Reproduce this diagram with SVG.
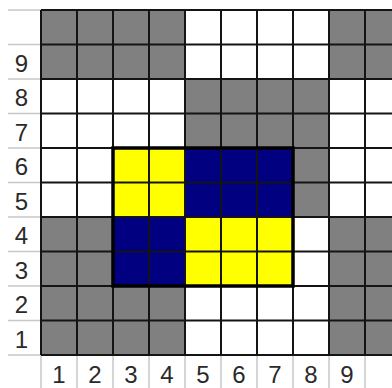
<svg xmlns="http://www.w3.org/2000/svg" width="392" height="388" viewBox="0 0 392 388">
<style>
.g{fill:#808080}.w{fill:#ffffff}.y{fill:#ffff00}.b{fill:#000080}
.grid{stroke:#141414;stroke-width:2;fill:none}
.light{stroke:#c8c8c8;stroke-width:1.5;fill:none}
.lbl{font-family:"Liberation Sans",Arial,sans-serif;font-size:24px;fill:#2a2a2a;text-anchor:middle}
</style>
<rect x="0" y="0" width="392" height="388" fill="#fff"/>
<g id="cells">
<rect class="g" x="41" y="10" width="144" height="69"/>
<rect class="w" x="185" y="10" width="144" height="69"/>
<rect class="g" x="329" y="10" width="63" height="69"/>
<rect class="w" x="41" y="79" width="144" height="69"/>
<rect class="g" x="185" y="79" width="144" height="69"/>
<rect class="w" x="329" y="79" width="63" height="69"/>
<rect class="w" x="41" y="148" width="72" height="69"/>
<rect class="y" x="113" y="148" width="72" height="69"/>
<rect class="b" x="185" y="148" width="108" height="69"/>
<rect class="g" x="293" y="148" width="36" height="69"/>
<rect class="w" x="329" y="148" width="63" height="69"/>
<rect class="g" x="41" y="217" width="72" height="69"/>
<rect class="b" x="113" y="217" width="72" height="69"/>
<rect class="y" x="185" y="217" width="108" height="69"/>
<rect class="w" x="293" y="217" width="36" height="69"/>
<rect class="g" x="329" y="217" width="63" height="69"/>
<rect class="g" x="41" y="286" width="144" height="69"/>
<rect class="w" x="185" y="286" width="144" height="69"/>
<rect class="g" x="329" y="286" width="63" height="69"/>
</g>
<g id="connectors">
<path class="light" d="M8 10H41M8 44.5H41M8 79H41M8 113.5H41M8 148H41M8 182.5H41M8 217H41M8 251.5H41M8 286H41M8 320.5H41M8 355H41"/>
<path class="light" d="M41 355V388M77 355V388M113 355V388M149 355V388M185 355V388M221 355V388M257 355V388M293 355V388M329 355V388M365 355V388"/>
<path class="grid" d="M41 10V355M77 10V355M113 10V355M149 10V355M185 10V355M221 10V355M257 10V355M293 10V355M329 10V355M365 10V355"/>
<path class="grid" d="M41 10H392M41 44.5H392M41 79H392M41 113.5H392M41 148H392M41 182.5H392M41 217H392M41 251.5H392M41 286H392M41 320.5H392M41 355H392"/>
<rect x="113" y="148" width="180" height="138" fill="none" stroke="#000" stroke-width="3.5"/>
</g>
<g id="row-labels" class="lbl">
<text x="21.5" y="71.5">9</text>
<text x="21.5" y="106">8</text>
<text x="21.5" y="140.5">7</text>
<text x="21.5" y="175">6</text>
<text x="21.5" y="209.5">5</text>
<text x="21.5" y="244">4</text>
<text x="21.5" y="278.5">3</text>
<text x="21.5" y="313">2</text>
<text x="21.5" y="347.5">1</text>
</g>
<g id="col-labels" class="lbl">
<text x="59" y="383">1</text>
<text x="95" y="383">2</text>
<text x="131" y="383">3</text>
<text x="167" y="383">4</text>
<text x="203" y="383">5</text>
<text x="239" y="383">6</text>
<text x="275" y="383">7</text>
<text x="311" y="383">8</text>
<text x="347" y="383">9</text>
</g>
</svg>
